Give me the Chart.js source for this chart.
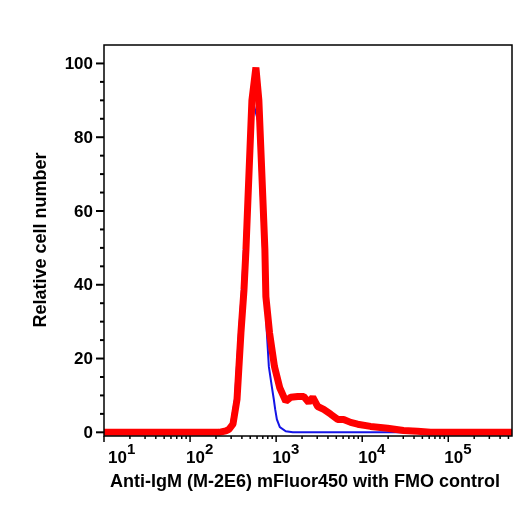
<!DOCTYPE html>
<html>
<head>
<meta charset="utf-8">
<script src="https://cdn.jsdelivr.net/npm/chart.js@4.4.1/dist/chart.umd.min.js"></script>
<style>
  html, body { margin: 0; padding: 0; background: #fff; }
</style>
</head>
<body>
<canvas id="hist" width="532" height="506"></canvas>
<script>
// stained sample (red) - fluorescence intensity and relative count
const redX = [10, 217, 261, 283, 315, 351, 390, 423, 446, 470, 496, 523, 582, 630, 665, 702, 740, 760, 838, 957, 1104, 1295, 1479, 1783, 2093, 2392, 2662, 3041, 3571, 4303, 5188, 6085, 7339, 8846, 12500, 19690, 30170, 43850, 62050, 550000];
const redY = [0, 0, 0.4, 0.8, 2.2, 8.9, 27, 38.6, 49.5, 63, 76.5, 90, 98.9, 90, 76.5, 63, 49.5, 36.8, 27, 17.8, 12, 8.4, 9.5, 9.7, 9.7, 8.1, 9.5, 7, 6.2, 4.9, 3.5, 3.5, 2.7, 2.2, 1.6, 1.1, 0.5, 0.3, 0, 0];

// FMO control (blue)
const blueX = [10, 217, 268, 299, 332, 370, 401, 434, 470, 509, 552, 614, 648, 683, 720, 745, 780, 823, 891, 940, 975, 1020, 1104, 1295, 1563, 550000];
const blueY = [0, 0, 0.3, 2.2, 8.9, 27, 38.6, 54.9, 71, 84.6, 88.6, 84.6, 71, 57.6, 44, 36.8, 27, 17.8, 12.4, 8.9, 6.2, 3.5, 1.4, 0.3, 0, 0];

const yTicks = [0, 20, 40, 60, 80, 100];
const xDecades = [1, 2, 3, 4, 5];

const FONT = '"Liberation Sans", Arial, Helvetica, sans-serif';

const axesDecor = {
  id: 'axesDecor',
  afterDraw(chart) {
    const { ctx, chartArea: a, scales: { x, y } } = chart;
    ctx.save();
    ctx.strokeStyle = '#000';
    ctx.fillStyle = '#000';
    ctx.lineWidth = 1.5;
    ctx.strokeRect(a.left, a.top, a.right - a.left, a.bottom - a.top);

    // y ticks, every 5, long ones every 20
    ctx.lineWidth = 2;
    for (let v = 0; v <= 100; v += 5) {
      const py = y.getPixelForValue(v);
      const len = v % 20 === 0 ? 8 : 4;
      ctx.beginPath();
      ctx.moveTo(a.left - len, py);
      ctx.lineTo(a.left, py);
      ctx.stroke();
    }
    ctx.font = 'bold 17px ' + FONT;
    ctx.textAlign = 'right';
    ctx.textBaseline = 'middle';
    yTicks.forEach(v => {
      ctx.fillText(String(v), 93, y.getPixelForValue(v) + 1);
    });

    // x log ticks
    ctx.lineWidth = 1.5;
    xDecades.forEach(d => {
      for (let m = 1; m <= 9; m++) {
        const v = m * Math.pow(10, d);
        if (v < x.min || v > x.max) continue;
        const px = x.getPixelForValue(v);
        const len = m === 1 ? 6 : 3;
        ctx.beginPath();
        ctx.moveTo(px, a.bottom);
        ctx.lineTo(px, a.bottom + len);
        ctx.stroke();
      }
    });
    ctx.textAlign = 'left';
    ctx.textBaseline = 'alphabetic';
    xDecades.forEach(d => {
      const px = x.getPixelForValue(Math.pow(10, d));
      let left = px - 4;
      if (left < a.left + 3) left = a.left + 4;
      ctx.font = 'bold 17px ' + FONT;
      ctx.fillText('10', left, 463);
      const w = ctx.measureText('10').width;
      ctx.font = 'bold 15px ' + FONT;
      ctx.fillText(String(d), left + w, 454);
    });

    // axis titles
    ctx.font = 'bold 18px ' + FONT;
    ctx.textAlign = 'center';
    ctx.fillText('Anti-IgM (M-2E6) mFluor450 with FMO control', 305, 487);
    ctx.save();
    ctx.translate(46, 240);
    ctx.rotate(-Math.PI / 2);
    ctx.fillText('Relative cell number', 0, 0);
    ctx.restore();
    ctx.restore();
  }
};

new Chart(document.getElementById('hist'), {
  type: 'line',
  data: {
    datasets: [
      {
        label: 'Anti-IgM',
        data: redX.map((v, i) => ({ x: v, y: redY[i] })),
        borderColor: '#ff0000',
        borderWidth: 7,
        borderJoinStyle: 'bevel',
        pointRadius: 0,
        tension: 0,
        fill: false
      },
      {
        label: 'FMO control',
        data: blueX.map((v, i) => ({ x: v, y: blueY[i] })),
        borderColor: '#1414e6',
        borderWidth: 2,
        pointRadius: 0,
        tension: 0,
        fill: false
      }
    ]
  },
  options: {
    responsive: false,
    animation: false,
    devicePixelRatio: 1,
    layout: { padding: { left: 0, right: 20, top: 45, bottom: 0 } },
    scales: {
      x: {
        type: 'logarithmic',
        min: 10,
        max: 550000,
        grid: { display: false },
        border: { display: false },
        ticks: { display: false },
        afterFit: s => { s.height = 70; }
      },
      y: {
        min: -1,
        max: 105,
        grid: { display: false },
        border: { display: false },
        ticks: { display: false },
        afterFit: s => { s.width = 104; }
      }
    },
    plugins: {
      legend: { display: false },
      tooltip: { enabled: false }
    }
  },
  plugins: [axesDecor]
});
</script>
</body>
</html>
